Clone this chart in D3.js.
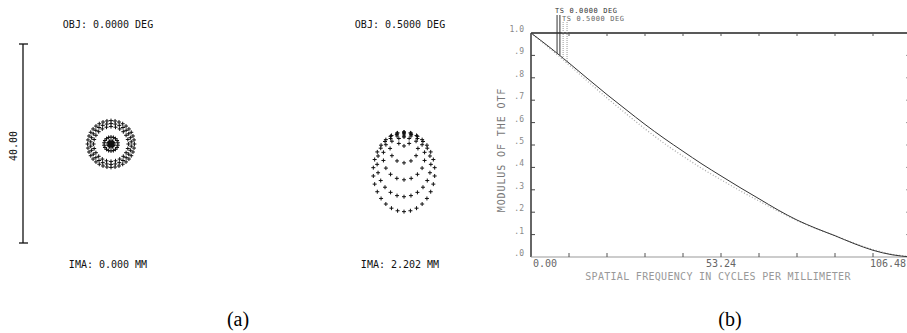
<!DOCTYPE html>
<html>
<head>
<meta charset="utf-8">
<script src="https://cdn.jsdelivr.net/npm/d3@7"></script>
<style>
  body { margin: 0; background: #fff; }
  svg { display: block; }
  .mono { font-family: "DejaVu Sans Mono", monospace; }
  .cap { font-family: "Liberation Serif", "Times New Roman", serif; font-size: 20px; }
</style>
</head>
<body>
<div id="chart"></div>
<script>
// (a) spot diagrams, micrometres
var scaleBarLength = 40.00;
var spot0Labels = ["OBJ: 0.0000 DEG", "IMA: 0.000 MM"];
var spot5Labels = ["OBJ: 0.5000 DEG", "IMA: 2.202 MM"];
var spot0Radius = [0, 0.25, 0.6, 1.4, 3.5, 4.1, 4.7];
var spot0Rays = [1, 6, 12, 18, 24, 30, 36];
var spot5Offset = [0, 0.8, 2.3, 3.9, 5.5, 7.0];
var spot5RadiusX = [0, 1.2, 2.8, 4.2, 5.4, 6.2];
var spot5RadiusY = [0, 1.0, 2.9, 4.7, 6.5, 8.0];
var spot5Rays = [1, 6, 12, 18, 24, 30];

// (b) MTF
var frequencies = [0, 5.32, 10.65, 15.97, 21.30, 26.62, 31.94, 37.27, 42.59, 47.92, 53.24,
  58.56, 63.89, 69.21, 74.54, 79.86, 85.18, 90.51, 95.83, 101.16, 106.48];
var mtf0 = [1.00, 0.935, 0.866, 0.795, 0.725, 0.658, 0.592, 0.530, 0.472, 0.415, 0.362,
  0.310, 0.260, 0.210, 0.165, 0.128, 0.095, 0.060, 0.030, 0.010, 0.000];
var mtf5 = [1.00, 0.930, 0.858, 0.783, 0.710, 0.640, 0.572, 0.508, 0.450, 0.395, 0.345,
  0.296, 0.250, 0.205, 0.163, 0.127, 0.095, 0.062, 0.033, 0.012, 0.002];
var legendLabels = ["TS 0.0000 DEG", "TS 0.5000 DEG"];
var legendFreqs = [[7.3, 8.1], [9.0, 10.1]];
var legendHits = [[0.910, 0.900], [0.882, 0.867]];
var yTicks = [0, 0.1, 0.2, 0.3, 0.4, 0.5, 0.6, 0.7, 0.8, 0.9, 1.0];
var yTickLabels = [".0", ".1", ".2", ".3", ".4", ".5", ".6", ".7", ".8", ".9", "1.0"];
var xTickValues = [0, 53.24, 106.48];
var xTickLabels = ["0.00", "53.24", "106.48"];

var svg = d3.select("#chart").append("svg")
  .attr("width", 907)
  .attr("height", 333);

svg.append("rect").attr("width", 907).attr("height", 333).attr("fill", "#fff");

// ---------- (a) ----------
var um = d3.scaleLinear().domain([0, scaleBarLength]).range([0, 199]);
var barY = d3.scaleLinear().domain([-scaleBarLength / 2, scaleBarLength / 2]).range([243, 44]);

var a = svg.append("g");

a.append("line")
  .attr("x1", 23).attr("x2", 23)
  .attr("y1", barY(-scaleBarLength / 2)).attr("y2", barY(scaleBarLength / 2))
  .attr("stroke", "#111").attr("stroke-width", 1.3);
[-scaleBarLength / 2, scaleBarLength / 2].forEach(function (v) {
  a.append("line")
    .attr("x1", 19).attr("x2", 28)
    .attr("y1", barY(v)).attr("y2", barY(v))
    .attr("stroke", "#111").attr("stroke-width", 1.3);
});
a.append("text")
  .attr("class", "mono")
  .attr("transform", "translate(17,146) rotate(-90)")
  .attr("text-anchor", "middle")
  .attr("font-size", 10)
  .attr("fill", "#111")
  .text(scaleBarLength.toFixed(2));

function ringPoints(cx, cy, offsets, rx, ry, rays) {
  var pts = [];
  rays.forEach(function (n, i) {
    for (var k = 0; k < n; k++) {
      var t = Math.PI / 2 + 2 * Math.PI * k / n;
      pts.push([cx + um(rx[i]) * Math.cos(t), cy + um(offsets[i]) + um(ry[i]) * Math.sin(t)]);
    }
  });
  return pts;
}

var plus = "M-2,0H2M0,-2V2";

var spot0 = ringPoints(111, 144, spot0Radius.map(function () { return 0; }), spot0Radius, spot0Radius, spot0Rays);
var spot5 = ringPoints(404, 137, spot5Offset, spot5RadiusX, spot5RadiusY, spot5Rays);

[spot0, spot5].forEach(function (pts) {
  a.append("g").selectAll("path")
    .data(pts)
    .enter().append("path")
    .attr("d", plus)
    .attr("transform", function (d) { return "translate(" + d[0] + "," + d[1] + ")"; })
    .attr("stroke", "#111")
    .attr("stroke-width", 1)
    .attr("fill", "none");
});

[[108, spot0Labels], [400, spot5Labels]].forEach(function (p) {
  a.append("text").attr("class", "mono")
    .attr("x", p[0]).attr("y", 28)
    .attr("text-anchor", "middle").attr("font-size", 10).attr("fill", "#111")
    .text(p[1][0]);
  a.append("text").attr("class", "mono")
    .attr("x", p[0]).attr("y", 268)
    .attr("text-anchor", "middle").attr("font-size", 10).attr("fill", "#111")
    .text(p[1][1]);
});

// ---------- (b) ----------
var x = d3.scaleLinear().domain([0, 106.48]).range([531, 911]);
var y = d3.scaleLinear().domain([0, 1]).range([257, 33]);

var b = svg.append("g");

// frame
b.append("line").attr("x1", x(0)).attr("x2", x(0)).attr("y1", y(0)).attr("y2", y(1))
  .attr("stroke", "#333").attr("stroke-width", 1.5);
b.append("line").attr("x1", x(0)).attr("x2", x(106.48)).attr("y1", y(1)).attr("y2", y(1))
  .attr("stroke", "#222").attr("stroke-width", 1.5);
b.append("line").attr("x1", x(0)).attr("x2", x(106.48)).attr("y1", y(0)).attr("y2", y(0))
  .attr("stroke", "#999").attr("stroke-width", 1.2);
b.append("line").attr("x1", x(106.48)).attr("x2", x(106.48)).attr("y1", y(0)).attr("y2", y(1))
  .attr("stroke", "#999").attr("stroke-width", 1.2);

// ticks inside the frame
var xTickPos = d3.range(0, 11).map(function (i) { return i * 106.48 / 10; });
b.append("g").selectAll("line.bt").data(xTickPos.slice(1, 10)).enter().append("line")
  .attr("x1", x).attr("x2", x).attr("y1", y(0)).attr("y2", y(0) - 4)
  .attr("stroke", "#555");
b.append("g").selectAll("line.tt").data(xTickPos.slice(1, 10)).enter().append("line")
  .attr("x1", x).attr("x2", x).attr("y1", y(1)).attr("y2", y(1) + 3)
  .attr("stroke", "#555");
b.append("g").selectAll("line.lt").data(yTicks.slice(1, 10)).enter().append("line")
  .attr("x1", x(0)).attr("x2", x(0) + 4).attr("y1", y).attr("y2", y)
  .attr("stroke", "#444");
b.append("g").selectAll("line.rt").data(yTicks.slice(1, 10)).enter().append("line")
  .attr("x1", x(106.48)).attr("x2", x(106.48) - 5).attr("y1", y).attr("y2", y)
  .attr("stroke", "#999");

// tick labels
b.append("g").selectAll("text").data(yTicks).enter().append("text")
  .attr("class", "mono")
  .attr("x", 524)
  .attr("y", function (d) { return y(d) - 1; })
  .attr("text-anchor", "end")
  .attr("font-size", 8)
  .attr("fill", "#888")
  .text(function (d, i) { return yTickLabels[i]; });

// right label kept inside the window
b.append("g").selectAll("text").data(xTickValues).enter().append("text")
  .attr("class", "mono")
  .attr("x", function (d, i) { return i == 0 ? x(d) + 2 : (i == 2 ? 906 : x(d)); })
  .attr("y", 267)
  .attr("text-anchor", function (d, i) { return ["start", "middle", "end"][i]; })
  .attr("font-size", 10)
  .attr("fill", "#666")
  .text(function (d, i) { return xTickLabels[i]; });

// axis titles
b.append("text").attr("class", "mono")
  .attr("transform", "translate(505,150) rotate(-90)")
  .attr("text-anchor", "middle")
  .attr("font-size", 10)
  .attr("letter-spacing", 0.9)
  .attr("fill", "#777")
  .text("MODULUS OF THE OTF");
b.append("text").attr("class", "mono")
  .attr("x", 718).attr("y", 280)
  .attr("text-anchor", "middle")
  .attr("font-size", 10)
  .attr("letter-spacing", 0.3)
  .attr("fill", "#999")
  .text("SPATIAL FREQUENCY IN CYCLES PER MILLIMETER");

// curves
var line = d3.line()
  .x(function (d) { return x(d[0]); })
  .y(function (d) { return y(d[1]); })
  .curve(d3.curveMonotoneX);

b.append("path")
  .datum(d3.zip(frequencies, mtf5))
  .attr("fill", "none")
  .attr("stroke", "#aaa")
  .attr("stroke-width", 1.3)
  .attr("stroke-dasharray", "1,2")
  .attr("d", line);

b.append("path")
  .datum(d3.zip(frequencies, mtf0))
  .attr("fill", "none")
  .attr("stroke", "#333")
  .attr("stroke-width", 1)
  .attr("d", line);

// legend pointers
var legendStyles = [{ c: "#333", dash: null, top: 15, tx: 555, ty: 13 },
                    { c: "#999", dash: "1,1", top: 22, tx: 562, ty: 21 }];
legendLabels.forEach(function (lab, i) {
  var s = legendStyles[i];
  legendFreqs[i].forEach(function (f, j) {
    b.append("line")
      .attr("x1", x(f)).attr("x2", x(f))
      .attr("y1", s.top).attr("y2", y(legendHits[i][j]))
      .attr("stroke", s.c).attr("stroke-width", 1)
      .attr("stroke-dasharray", s.dash);
  });
  b.append("text").attr("class", "mono")
    .attr("x", s.tx).attr("y", s.ty)
    .attr("font-size", 7)
    .attr("letter-spacing", 0.6)
    .attr("fill", i == 0 ? "#333" : "#666")
    .text(lab);
});

// captions
svg.append("text").attr("class", "cap").attr("x", 238).attr("y", 326)
  .attr("text-anchor", "middle").attr("fill", "#000").text("(a)");
svg.append("text").attr("class", "cap").attr("x", 730).attr("y", 326)
  .attr("text-anchor", "middle").attr("fill", "#000").text("(b)");
</script>
</body>
</html>
